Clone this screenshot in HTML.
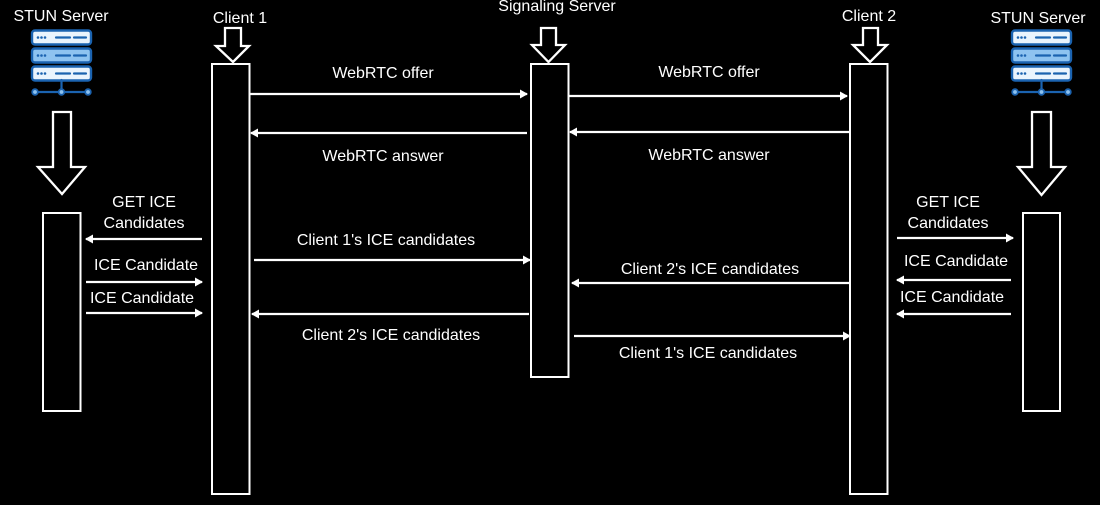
<!DOCTYPE html>
<html>
<head>
<meta charset="utf-8">
<style>
  html, body { margin:0; padding:0; background:#000; }
  body { width:1100px; height:505px; overflow:hidden; }
  svg { display:block; }
  text { font-family: "Liberation Sans", sans-serif; font-size:16px; fill:#fff; text-anchor:middle; }
</style>
</head>
<body>
<svg width="1100" height="505" viewBox="0 0 1100 505" xmlns="http://www.w3.org/2000/svg">
  <defs>
    <marker id="ah" markerWidth="8" markerHeight="10" refX="7" refY="5" orient="auto" markerUnits="userSpaceOnUse">
      <path d="M0,0.5 L8,5 L0,9.5 Z" fill="#fff"/>
    </marker>
    <g id="server">
      <rect x="32" y="30.5" width="59" height="14" rx="3" fill="#eaf4fd" stroke="#1b63b0" stroke-width="2.4"/>
      <rect x="32" y="48.5" width="59" height="14" rx="3" fill="#8ec3f0" stroke="#1b63b0" stroke-width="2.4"/>
      <rect x="32" y="66.5" width="59" height="14" rx="3" fill="#eaf4fd" stroke="#1b63b0" stroke-width="2.4"/>
      <g fill="#1b63b0">
        <circle cx="38" cy="37.5" r="1.3"/><circle cx="41.5" cy="37.5" r="1.3"/><circle cx="45" cy="37.5" r="1.3"/>
        <circle cx="38" cy="55.5" r="1.3"/><circle cx="41.5" cy="55.5" r="1.3"/><circle cx="45" cy="55.5" r="1.3"/>
        <circle cx="38" cy="73.5" r="1.3"/><circle cx="41.5" cy="73.5" r="1.3"/><circle cx="45" cy="73.5" r="1.3"/>
      </g>
      <g stroke="#1b63b0" stroke-width="2.2" stroke-linecap="round">
        <line x1="56" y1="37.5" x2="70" y2="37.5"/><line x1="74" y1="37.5" x2="86" y2="37.5"/>
        <line x1="56" y1="55.5" x2="70" y2="55.5"/><line x1="74" y1="55.5" x2="86" y2="55.5"/>
        <line x1="56" y1="73.5" x2="70" y2="73.5"/><line x1="74" y1="73.5" x2="86" y2="73.5"/>
        <line x1="61.5" y1="80" x2="61.5" y2="92"/>
        <line x1="35" y1="92" x2="88" y2="92"/>
      </g>
      <g fill="#8ec3f0" stroke="#1b63b0" stroke-width="1.8">
        <circle cx="35" cy="92" r="2.8"/><circle cx="61.5" cy="92" r="2.8"/><circle cx="88" cy="92" r="2.8"/>
      </g>
    </g>
  </defs>

  <!-- Titles -->
  <text x="61" y="21">STUN Server</text>
  <text x="240" y="23">Client 1</text>
  <text x="557" y="11">Signaling Server</text>
  <text x="869" y="21">Client 2</text>
  <text x="1038" y="23">STUN Server</text>

  <!-- Server icons -->
  <use href="#server"/>
  <use href="#server" transform="translate(980,0)"/>

  <!-- hollow arrows -->
  <g fill="none" stroke="#fff" stroke-width="2.3" stroke-linejoin="miter">
    <polygon points="225,28 241,28 241,46 249,46 233,62 216,46 225,46"/>
    <polygon points="541,28 556,28 556,45 565,45 548.5,62 532,45 541,45"/>
    <polygon points="863,28 878,28 878,45 887,45 870,62 853,45 863,45"/>
    <polygon points="53,112 71,112 71,167 85,167 62,194 38,167 53,167"/>
    <polygon points="1032,112 1051,112 1051,167 1065,167 1041.5,195 1018,167 1032,167"/>
  </g>

  <!-- lifelines -->
  <g fill="none" stroke="#fff" stroke-width="2">
    <rect x="212" y="64" width="37.5" height="430"/>
    <rect x="531" y="64" width="37.5" height="313"/>
    <rect x="850" y="64" width="37.5" height="430"/>
    <rect x="43" y="213" width="37.5" height="198"/>
    <rect x="1023" y="213" width="37" height="198"/>
  </g>

  <!-- message arrows -->
  <g stroke="#fff" stroke-width="2.3" marker-end="url(#ah)">
    <line x1="202" y1="239" x2="86" y2="239"/>
    <line x1="86" y1="282" x2="202" y2="282"/>
    <line x1="86" y1="313" x2="202" y2="313"/>
    <line x1="250" y1="94" x2="527" y2="94"/>
    <line x1="527" y1="133" x2="251" y2="133"/>
    <line x1="254" y1="260" x2="530" y2="260"/>
    <line x1="529" y1="314" x2="252" y2="314"/>
    <line x1="569" y1="96" x2="847" y2="96"/>
    <line x1="849" y1="132" x2="570" y2="132"/>
    <line x1="850" y1="283" x2="572" y2="283"/>
    <line x1="574" y1="336" x2="850" y2="336"/>
    <line x1="897" y1="238" x2="1013" y2="238"/>
    <line x1="1011" y1="280" x2="897" y2="280"/>
    <line x1="1011" y1="314" x2="897" y2="314"/>
  </g>

  <!-- labels -->
  <text x="144" y="207">GET ICE</text>
  <text x="144" y="228">Candidates</text>
  <text x="146" y="270">ICE Candidate</text>
  <text x="142" y="303">ICE Candidate</text>

  <text x="383" y="78">WebRTC offer</text>
  <text x="383" y="161">WebRTC answer</text>
  <text x="386" y="245">Client 1's ICE candidates</text>
  <text x="391" y="340">Client 2's ICE candidates</text>

  <text x="709" y="77">WebRTC offer</text>
  <text x="709" y="160">WebRTC answer</text>
  <text x="710" y="274">Client 2's ICE candidates</text>
  <text x="708" y="358">Client 1's ICE candidates</text>

  <text x="948" y="207">GET ICE</text>
  <text x="948" y="228">Candidates</text>
  <text x="956" y="266">ICE Candidate</text>
  <text x="952" y="302">ICE Candidate</text>
</svg>
</body>
</html>
